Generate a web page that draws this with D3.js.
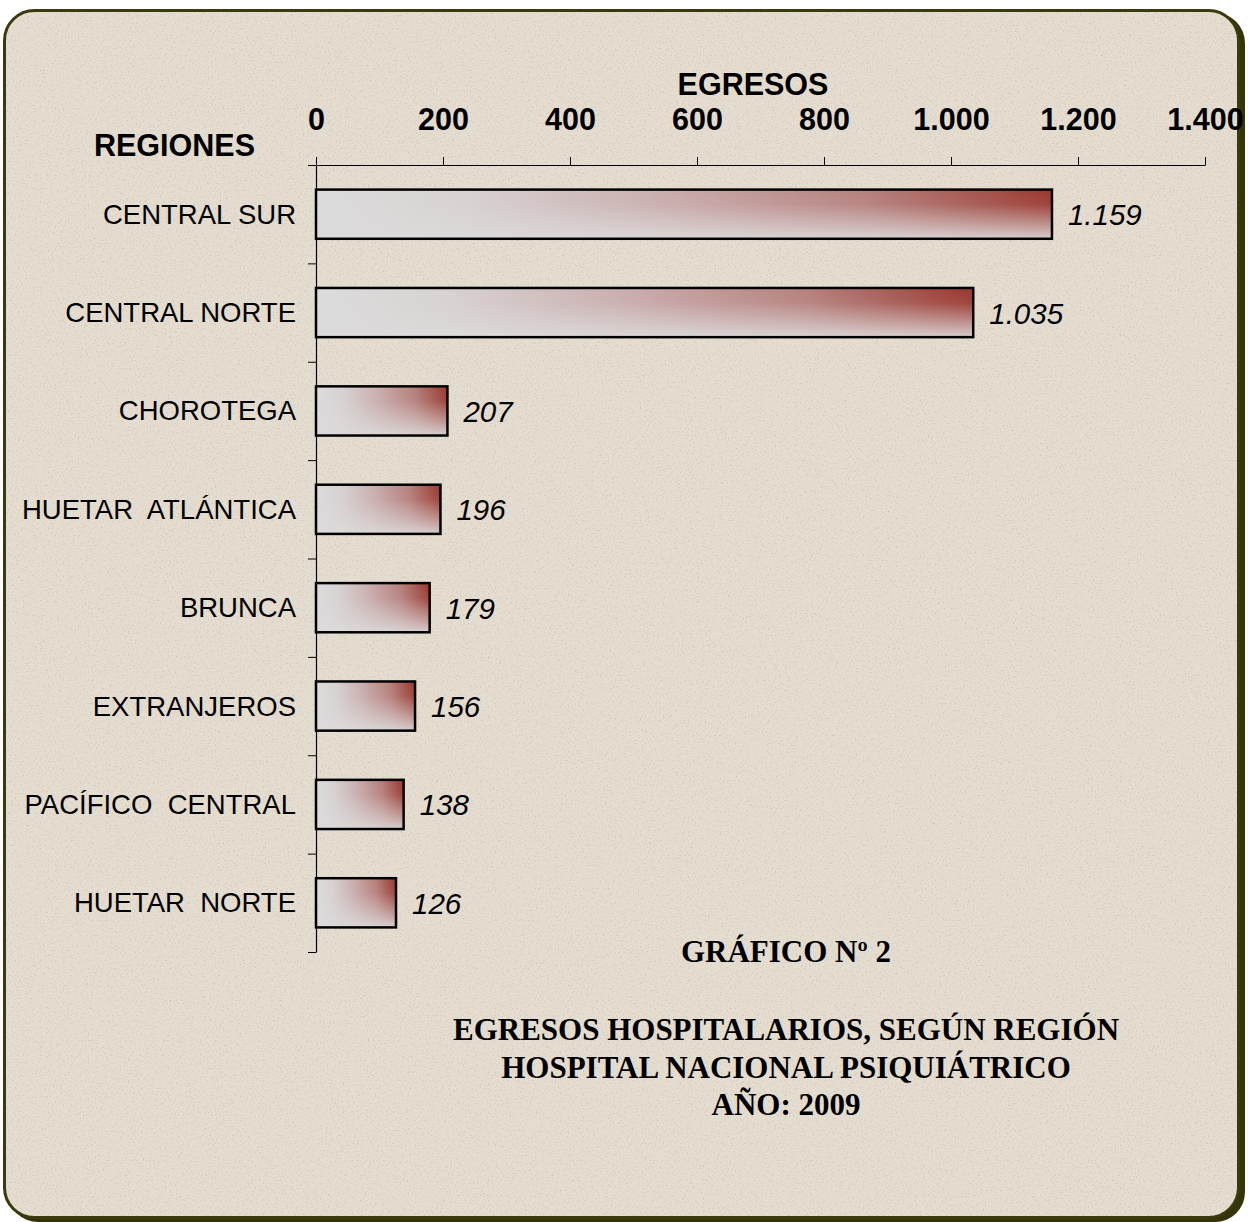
<!DOCTYPE html>
<html><head><meta charset="utf-8">
<script src="https://cdn.jsdelivr.net/npm/d3@7/dist/d3.min.js"></script>
<style>html,body{margin:0;padding:0;background:#fff;}svg{display:block;}</style>
</head><body>
<script>
const categories = ["CENTRAL SUR","CENTRAL NORTE","CHOROTEGA","HUETAR  ATLÁNTICA","BRUNCA","EXTRANJEROS","PACÍFICO  CENTRAL","HUETAR  NORTE"];
const values = [1159,1035,207,196,179,156,138,126];
const tickValues = [0,200,400,600,800,1000,1200,1400];
const titleLines = ["EGRESOS HOSPITALARIOS, SEGÚN REGIÓN","HOSPITAL NACIONAL PSIQUIÁTRICO","AÑO: 2009"];
const chartNumber = "GRÁFICO Nº 2";
const xTitle = "EGRESOS";
const yTitle = "REGIONES";

const W = 1257, H = 1222;
const loc = d3.formatLocale({decimal:",", thousands:".", grouping:[3], currency:["",""]});
const fmt = loc.format(",d");
const sans = "Arial, 'Liberation Sans', sans-serif";
const serif = "'Times New Roman', 'Liberation Serif', serif";

const svg = d3.select("body").append("svg").attr("width", W).attr("height", H);
const defs = svg.append("defs");

// background noise filter
const f = defs.append("filter").attr("id","noise").attr("x",0).attr("y",0).attr("width","100%").attr("height","100%");
f.append("feTurbulence").attr("type","fractalNoise").attr("baseFrequency","0.6").attr("numOctaves",2).attr("seed",7).attr("result","t");
f.append("feColorMatrix").attr("in","t").attr("type","matrix")
 .attr("values","0 0 0 0 0.52  0 0 0 0 0.49  0 0 0 0 0.43  3.6 0 0 0 -1.95");

// bar gradients
const gH = defs.append("linearGradient").attr("id","gH").attr("x1",0).attr("y1",0).attr("x2",1).attr("y2",0);
[[0,"#dcdcdc"],[0.2,"#d8d2d2"],[0.45,"#cbb0b0"],[0.75,"#b57f7c"],[1,"#9a372e"]].forEach(s=>gH.append("stop").attr("offset",s[0]).attr("stop-color",s[1]));
const gV = defs.append("linearGradient").attr("id","gV").attr("x1",0).attr("y1",0).attr("x2",0).attr("y2",1);
[[0,0],[0.3,0.08],[0.7,0.55],[1,0.92]].forEach(s=>gV.append("stop").attr("offset",s[0]).attr("stop-color","#dcdada").attr("stop-opacity",s[1]));

// frame
svg.append("rect").attr("x",8).attr("y",13).attr("width",1237).attr("height",1209).attr("rx",30).attr("fill","#34330a");
svg.append("rect").attr("x",4.5).attr("y",10.5).attr("width",1234).attr("height",1207).attr("rx",30)
  .attr("fill","#e6ddd1").attr("stroke","#3a3a0c").attr("stroke-width",3);
defs.append("clipPath").attr("id","fc").append("rect").attr("x",6).attr("y",12).attr("width",1231).attr("height",1204).attr("rx",28);
svg.append("rect").attr("x",6).attr("y",12).attr("width",1231).attr("height",1204).attr("clip-path","url(#fc)")
  .attr("filter","url(#noise)").attr("opacity",0.6);

const x = d3.scaleLinear().domain([0,1400]).range([316,1205]);
const y = d3.scaleBand().domain(categories).range([165,952]).paddingInner(0.5).paddingOuter(0.25);
const yb = d3.scaleLinear().domain([0,categories.length]).range([165,952]);

// top axis
const gx = svg.append("g").attr("transform","translate(0,165)")
  .call(d3.axisTop(x).tickValues(tickValues).tickSize(8).tickSizeOuter(0).tickFormat(fmt));
gx.select(".domain").attr("stroke","#000").attr("stroke-width",1.2);
gx.selectAll(".tick line").attr("stroke","#000").attr("stroke-width",1);
gx.selectAll(".tick text").attr("y",-35).attr("dy",0).attr("fill","#000")
  .style("font-family",sans).style("font-size","30.5px").style("font-weight","bold");

// left axis with boundary ticks
const gy = svg.append("g").attr("transform","translate(316,0)")
  .call(d3.axisLeft(yb).tickValues(d3.range(categories.length+1)).tickSize(8).tickSizeOuter(0).tickFormat(""));
gy.select(".domain").attr("stroke","#000").attr("stroke-width",1.2);
gy.selectAll(".tick line").attr("stroke","#000").attr("stroke-width",1);

// bars
const data = categories.map((c,i)=>({c, v:values[i]}));
const bars = svg.append("g");
bars.selectAll("rect.b").data(data).join("rect").attr("class","b")
  .attr("x",x(0)).attr("y",d=>y(d.c)).attr("width",d=>x(d.v)-x(0)).attr("height",y.bandwidth())
  .attr("fill","url(#gH)");
bars.selectAll("rect.o").data(data).join("rect").attr("class","o")
  .attr("x",x(0)).attr("y",d=>y(d.c)).attr("width",d=>x(d.v)-x(0)).attr("height",y.bandwidth())
  .attr("fill","url(#gV)").attr("stroke","#000").attr("stroke-width",2.5);

// category labels
svg.append("g").selectAll("text").data(data).join("text")
  .attr("x",296).attr("y",d=>y(d.c)+y.bandwidth()/2+9.5).attr("text-anchor","end")
  .style("white-space","pre")
  .style("font-family",sans).style("font-size","27.5px").attr("fill","#000")
  .text(d=>d.c);

// value labels
svg.append("g").selectAll("text").data(data).join("text")
  .attr("x",d=>x(d.v)+16).attr("y",d=>y(d.c)+y.bandwidth()/2+11)
  .style("font-family",sans).style("font-size","29.5px").style("font-style","italic").attr("fill","#000")
  .text(d=>fmt(d.v));

// axis titles
svg.append("text").attr("x",94).attr("y",156).text(yTitle)
  .style("font-family",sans).style("font-size","30.5px").style("font-weight","bold");
svg.append("text").attr("x",753).attr("y",95).attr("text-anchor","middle").text(xTitle)
  .style("font-family",sans).style("font-size","30.5px").style("font-weight","bold");

// chart title
svg.append("text").attr("x",786).attr("y",962).attr("text-anchor","middle").text(chartNumber)
  .style("font-family",serif).style("font-size","31px").style("font-weight","bold");
svg.append("g").selectAll("text").data(titleLines).join("text")
  .attr("x",786).attr("y",(d,i)=>1040+i*37.5).attr("text-anchor","middle").text(d=>d)
  .style("font-family",serif).style("font-size","31px").style("font-weight","bold");
</script>
</body></html>
